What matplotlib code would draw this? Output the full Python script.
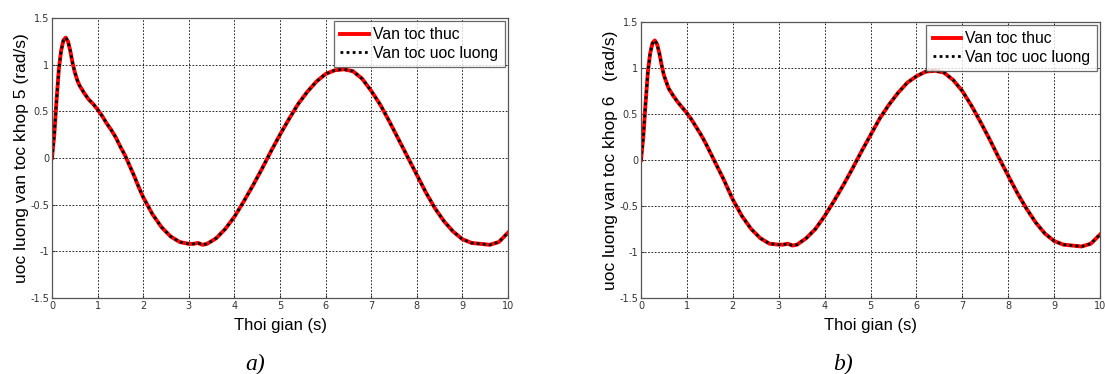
import matplotlib
matplotlib.use("Agg")
import matplotlib.pyplot as plt

# ---- data ----
t = [0.0, 0.05, 0.1, 0.15, 0.2, 0.25, 0.3, 0.35, 0.4, 0.45, 0.5, 0.55, 0.6, 0.7, 0.8, 0.9,
     1.0, 1.1, 1.2, 1.3, 1.4, 1.5, 1.6, 1.7, 1.8, 1.9, 2.0, 2.2, 2.4, 2.6, 2.8, 3.0,
     3.1, 3.2, 3.3, 3.4, 3.6, 3.8, 4.0, 4.2, 4.4, 4.6, 4.8, 5.0, 5.2, 5.4, 5.6, 5.8,
     6.0, 6.2, 6.4, 6.6, 6.8, 7.0, 7.2, 7.4, 7.6, 7.8, 8.0, 8.2, 8.4, 8.6, 8.8, 9.0,
     9.2, 9.4, 9.6, 9.8, 10.0]

v5_real = [0.0, 0.25, 0.62, 0.95, 1.15, 1.26, 1.29, 1.25, 1.15, 1.02, 0.92, 0.84, 0.78, 0.70, 0.63, 0.58,
           0.52, 0.45, 0.37, 0.30, 0.22, 0.12, 0.03, -0.08, -0.19, -0.31, -0.42, -0.60, -0.74, -0.84, -0.90, -0.92,
           -0.92, -0.91, -0.93, -0.92, -0.86, -0.76, -0.63, -0.47, -0.30, -0.12, 0.07, 0.25, 0.42, 0.58, 0.71, 0.82,
           0.90, 0.94, 0.95, 0.93, 0.85, 0.72, 0.57, 0.39, 0.20, 0.01, -0.18, -0.37, -0.54, -0.68, -0.79, -0.87,
           -0.91, -0.92, -0.93, -0.90, -0.80]
v5_est = list(v5_real)

v6_real = [0.0, 0.25, 0.62, 0.96, 1.16, 1.27, 1.30, 1.26, 1.16, 1.03, 0.92, 0.85, 0.78, 0.70, 0.63, 0.57,
           0.51, 0.44, 0.36, 0.28, 0.19, 0.09, -0.01, -0.11, -0.21, -0.32, -0.43, -0.61, -0.75, -0.85, -0.91, -0.92,
           -0.92, -0.91, -0.93, -0.92, -0.85, -0.75, -0.61, -0.45, -0.28, -0.10, 0.09, 0.27, 0.45, 0.60, 0.73, 0.84,
           0.91, 0.96, 0.97, 0.95, 0.87, 0.75, 0.59, 0.41, 0.22, 0.02, -0.17, -0.36, -0.53, -0.68, -0.80, -0.88,
           -0.92, -0.93, -0.94, -0.91, -0.81]
v6_est = list(v6_real)

xticks = [0, 1, 2, 3, 4, 5, 6, 7, 8, 9, 10]
yticks = [-1.5, -1, -0.5, 0, 0.5, 1, 1.5]
ytick_labels = ["-1.5", "-1", "-0.5", "0", "0.5", "1", "1.5"]
legend_labels = ["Van toc thuc", "Van toc uoc luong"]
xlabel = "Thoi gian (s)"
ylabels = ["uoc luong van toc khop 5 (rad/s)", "uoc luong van toc khop 6   (rad/s)"]
panel_tags = ["a)", "b)"]

W, H = 1105, 374
fig = plt.figure(figsize=(W / 100, H / 100), dpi=100)
fig.patch.set_facecolor("white")

rects = [(52, 18, 456, 280), (641, 22, 459, 276)]
series = [(v5_real, v5_est), (v6_real, v6_est)]
tag_x = [255, 843]

for i, (l, top, w, h) in enumerate(rects):
    ax = fig.add_axes([l / W, (H - top - h) / H, w / W, h / H])
    real, est = series[i]
    ax.plot(t, real, color="#ff0000", lw=2.8, label=legend_labels[0], solid_joinstyle="round")
    ax.plot(t, est, color="black", lw=2.0, ls=(0, (1, 1.2)), label=legend_labels[1])
    ax.set_xlim(0, 10)
    ax.set_ylim(-1.5, 1.5)
    ax.set_xticks(xticks)
    ax.set_yticks(yticks)
    ax.set_yticklabels(ytick_labels)
    ax.tick_params(labelsize=7, length=2, direction="in", colors="#333333", pad=2)
    ax.grid(True, color="black", ls=(0, (2, 2)), lw=0.6)
    for s in ax.spines.values():
        s.set_color("#555555")
        s.set_linewidth(0.9)
    ax.set_xlabel(xlabel, fontsize=12, family="Liberation Sans", labelpad=5)
    ax.set_ylabel(ylabels[i], fontsize=12.5, family="Liberation Sans", labelpad=1)
    leg = ax.legend(loc="upper right", frameon=True, fancybox=False,
                    edgecolor="#444444", borderpad=0.4, handlelength=1.8,
                    handletextpad=0.3, labelspacing=0.2, borderaxespad=0.2,
                    prop={"family": "Liberation Sans", "size": 11.3})
    leg.get_frame().set_linewidth(0.9)
    fig.text(tag_x[i] / W, 1 - 364 / H, panel_tags[i], fontsize=17, style="italic",
             family="Liberation Serif", ha="center", va="center")

fig.savefig("out.png", dpi=100, facecolor="white")
